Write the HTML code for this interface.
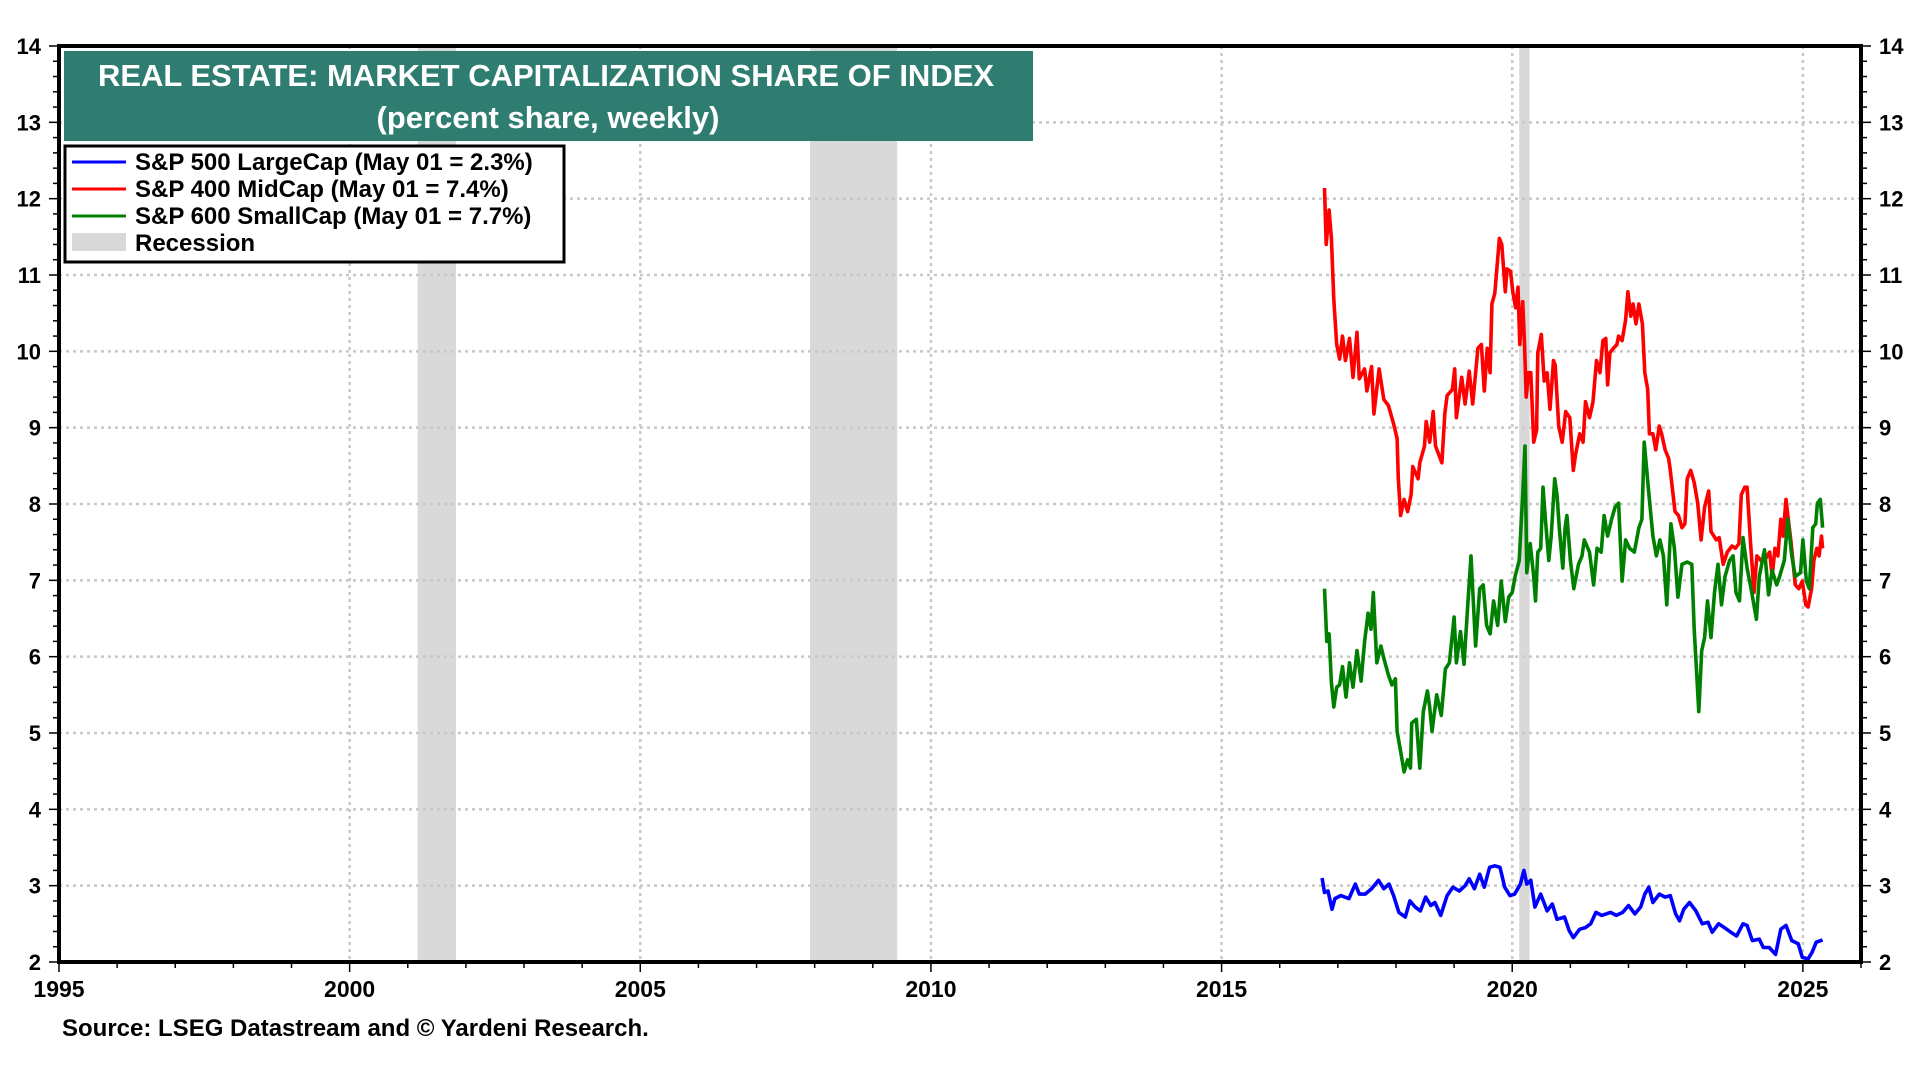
<!DOCTYPE html>
<html><head><meta charset="utf-8"><style>
html,body{margin:0;padding:0;background:#fff;}
svg text{font-family:"Liberation Sans",Arial,sans-serif;font-weight:bold;}
</style></head><body>
<svg id="chart" width="1920" height="1080" xmlns="http://www.w3.org/2000/svg">
<g id="bands"></g><g id="grid"></g><g id="series"></g><g id="axes"></g>
<g>
<rect x="64" y="51" width="969" height="90" fill="#2e7d70"/>
<text x="546" y="86" fill="#fff" font-size="31" text-anchor="middle">REAL ESTATE: MARKET CAPITALIZATION SHARE OF INDEX</text>
<text x="548" y="128" fill="#fff" font-size="31" text-anchor="middle">(percent share, weekly)</text>
</g>
<g>
<rect x="65" y="146" width="499" height="116" fill="#fff" stroke="#000" stroke-width="3"/>
<g><line x1="72" y1="162" x2="126" y2="162" stroke="#0000ff" stroke-width="3"/><text x="135" y="170" font-size="24">S&amp;P 500 LargeCap (May 01 = 2.3%)</text></g>
<g><line x1="72" y1="189" x2="126" y2="189" stroke="#ff0000" stroke-width="3"/><text x="135" y="197" font-size="24">S&amp;P 400 MidCap (May 01 = 7.4%)</text></g>
<g><line x1="72" y1="216" x2="126" y2="216" stroke="#008000" stroke-width="3"/><text x="135" y="224" font-size="24">S&amp;P 600 SmallCap (May 01 = 7.7%)</text></g>
<g><rect x="72" y="233" width="54" height="18" fill="#d9d9d9"/><text x="135" y="251" font-size="24">Recession</text></g>
</g>
<text x="62" y="1036" font-size="24">Source: LSEG Datastream and © Yardeni Research.</text>
</svg>
<script>
const recessionStarts=[2001.17,2007.92,2020.12];
const recessionEnds=[2001.83,2009.42,2020.3];
const yTicks=[2,3,4,5,6,7,8,9,10,11,12,13,14];
const xTicks=[1995,2000,2005,2010,2015,2020,2025];
const blueYears=[2016.73,2016.77,2016.83,2016.90,2016.95,2017.05,2017.12,2017.19,2017.30,2017.37,2017.47,2017.58,2017.70,2017.79,2017.88,2017.96,2018.05,2018.16,2018.24,2018.33,2018.42,2018.51,2018.60,2018.67,2018.77,2018.88,2018.98,2019.09,2019.19,2019.26,2019.35,2019.44,2019.52,2019.61,2019.70,2019.79,2019.87,2019.96,2020.04,2020.14,2020.20,2020.25,2020.32,2020.39,2020.49,2020.60,2020.69,2020.77,2020.90,2020.98,2021.05,2021.16,2021.26,2021.35,2021.44,2021.54,2021.69,2021.79,2021.90,2022.00,2022.11,2022.21,2022.28,2022.35,2022.42,2022.53,2022.63,2022.72,2022.81,2022.88,2022.95,2023.05,2023.16,2023.27,2023.37,2023.44,2023.55,2023.65,2023.76,2023.86,2023.97,2024.04,2024.13,2024.25,2024.32,2024.42,2024.53,2024.62,2024.71,2024.81,2024.92,2024.99,2025.09,2025.16,2025.23,2025.34];
const blueValues=[3.10,2.91,2.93,2.69,2.83,2.87,2.85,2.83,3.02,2.89,2.89,2.96,3.07,2.96,3.02,2.87,2.65,2.59,2.80,2.72,2.67,2.85,2.74,2.78,2.61,2.87,2.98,2.93,3.00,3.09,2.96,3.15,2.98,3.24,3.26,3.24,2.98,2.87,2.89,3.02,3.20,3.02,3.07,2.72,2.89,2.67,2.76,2.56,2.59,2.41,2.32,2.43,2.45,2.50,2.65,2.61,2.65,2.61,2.65,2.74,2.63,2.72,2.89,2.98,2.78,2.89,2.85,2.87,2.63,2.54,2.69,2.78,2.67,2.50,2.52,2.39,2.50,2.45,2.39,2.34,2.50,2.48,2.28,2.30,2.19,2.19,2.10,2.43,2.48,2.28,2.24,2.06,2.04,2.13,2.26,2.29];
const redYears=[2016.77,2016.80,2016.85,2016.89,2016.93,2016.98,2017.03,2017.08,2017.13,2017.20,2017.26,2017.33,2017.37,2017.46,2017.50,2017.58,2017.62,2017.71,2017.79,2017.87,2017.96,2018.02,2018.04,2018.08,2018.14,2018.20,2018.26,2018.29,2018.38,2018.41,2018.49,2018.52,2018.58,2018.64,2018.68,2018.79,2018.84,2018.88,2018.97,2019.01,2019.04,2019.13,2019.19,2019.26,2019.32,2019.41,2019.47,2019.52,2019.57,2019.62,2019.65,2019.70,2019.78,2019.82,2019.88,2019.91,2019.97,2020.01,2020.06,2020.10,2020.13,2020.18,2020.21,2020.24,2020.28,2020.32,2020.37,2020.42,2020.44,2020.50,2020.55,2020.60,2020.65,2020.71,2020.74,2020.80,2020.86,2020.92,2020.99,2021.05,2021.09,2021.16,2021.22,2021.26,2021.33,2021.39,2021.45,2021.51,2021.56,2021.61,2021.64,2021.68,2021.74,2021.80,2021.83,2021.89,2021.95,2021.99,2022.04,2022.08,2022.13,2022.18,2022.24,2022.28,2022.33,2022.36,2022.42,2022.47,2022.53,2022.57,2022.63,2022.69,2022.72,2022.80,2022.86,2022.92,2022.97,2023.01,2023.07,2023.13,2023.19,2023.25,2023.31,2023.38,2023.42,2023.51,2023.56,2023.63,2023.70,2023.78,2023.84,2023.90,2023.94,2024.00,2024.04,2024.10,2024.16,2024.21,2024.28,2024.34,2024.43,2024.47,2024.52,2024.57,2024.62,2024.66,2024.71,2024.75,2024.80,2024.87,2024.93,2024.99,2025.05,2025.09,2025.15,2025.19,2025.24,2025.28,2025.32,2025.34];
const redValues=[12.14,11.4,11.85,11.48,10.68,10.09,9.9,10.2,9.88,10.17,9.66,10.25,9.64,9.77,9.48,9.8,9.18,9.77,9.37,9.29,9.05,8.86,8.33,7.85,8.06,7.9,8.12,8.49,8.33,8.54,8.76,9.08,8.81,9.21,8.76,8.54,9.18,9.42,9.5,9.77,9.13,9.66,9.31,9.74,9.31,10.04,10.09,9.48,10.04,9.72,10.62,10.76,11.48,11.4,10.78,11.08,11.05,10.78,10.57,10.84,10.09,10.65,10.14,9.4,9.72,9.72,8.81,8.97,9.98,10.22,9.61,9.72,9.24,9.88,9.82,9.02,8.81,9.21,9.13,8.44,8.65,8.92,8.81,9.34,9.13,9.34,9.88,9.72,10.14,10.17,9.56,9.98,10.04,10.09,10.2,10.14,10.41,10.78,10.46,10.62,10.36,10.62,10.36,9.72,9.5,8.92,8.92,8.71,9.02,8.92,8.71,8.6,8.44,7.9,7.85,7.69,7.74,8.33,8.44,8.28,8.01,7.53,7.96,8.17,7.64,7.53,7.56,7.21,7.37,7.45,7.42,7.48,8.12,8.22,8.22,7.48,6.84,7.32,7.26,7.26,7.37,7.05,7.42,7.32,7.8,7.58,8.06,7.8,7.48,6.94,6.89,6.99,6.68,6.65,6.89,7.26,7.42,7.32,7.58,7.42];
const greenYears=[2016.77,2016.81,2016.85,2016.89,2016.93,2016.98,2017.03,2017.08,2017.14,2017.20,2017.26,2017.33,2017.40,2017.46,2017.52,2017.57,2017.61,2017.67,2017.74,2017.79,2017.87,2017.93,2017.99,2018.02,2018.08,2018.14,2018.20,2018.25,2018.27,2018.35,2018.41,2018.47,2018.54,2018.58,2018.62,2018.70,2018.78,2018.85,2018.92,2019.00,2019.04,2019.11,2019.17,2019.23,2019.29,2019.37,2019.44,2019.50,2019.56,2019.62,2019.68,2019.75,2019.81,2019.88,2019.94,2020.00,2020.05,2020.12,2020.18,2020.22,2020.25,2020.31,2020.37,2020.40,2020.44,2020.49,2020.53,2020.57,2020.63,2020.67,2020.73,2020.77,2020.81,2020.87,2020.91,2020.94,2021.00,2021.06,2021.14,2021.20,2021.24,2021.33,2021.40,2021.46,2021.53,2021.58,2021.64,2021.71,2021.77,2021.83,2021.89,2021.95,2022.02,2022.10,2022.18,2022.23,2022.27,2022.36,2022.42,2022.48,2022.54,2022.60,2022.66,2022.73,2022.79,2022.85,2022.92,2023.01,2023.09,2023.13,2023.21,2023.26,2023.31,2023.36,2023.42,2023.48,2023.54,2023.60,2023.66,2023.74,2023.80,2023.85,2023.91,2023.97,2024.04,2024.11,2024.20,2024.25,2024.34,2024.41,2024.47,2024.55,2024.60,2024.68,2024.74,2024.81,2024.87,2024.96,2025.00,2025.06,2025.11,2025.17,2025.22,2025.25,2025.30,2025.34];
const greenValues=[6.89,6.2,6.3,5.66,5.34,5.6,5.63,5.87,5.47,5.92,5.6,6.08,5.68,6.2,6.57,6.36,6.84,5.92,6.14,5.98,5.76,5.63,5.71,5.02,4.76,4.49,4.65,4.54,5.13,5.18,4.54,5.28,5.55,5.34,5.02,5.5,5.23,5.84,5.92,6.52,5.92,6.33,5.9,6.62,7.32,6.14,6.89,6.94,6.41,6.3,6.73,6.41,6.99,6.46,6.78,6.84,7.05,7.26,8.12,8.76,7.1,7.48,7.05,6.73,7.37,7.42,8.22,7.8,7.26,7.58,8.33,8.12,7.69,7.16,7.69,7.85,7.26,6.89,7.21,7.32,7.53,7.37,6.94,7.42,7.37,7.85,7.58,7.8,7.96,8.01,6.99,7.53,7.42,7.37,7.69,7.8,8.81,8.06,7.58,7.32,7.53,7.32,6.68,7.74,7.42,6.78,7.21,7.24,7.21,6.36,5.28,6.08,6.25,6.73,6.25,6.84,7.21,6.68,7.05,7.26,7.32,6.84,6.73,7.56,7.16,6.89,6.49,7.05,7.4,6.81,7.13,6.94,7.05,7.26,7.8,7.32,7.05,7.1,7.53,6.99,6.89,7.69,7.74,8.01,8.06,7.69];

const L=59,R=1861,T=46,B=962,X0=1995,X1=2026,Y0=2,Y1=14;
const NS='http://www.w3.org/2000/svg';
function xs(v){return L+(v-X0)/(X1-X0)*(R-L);}
function ys(v){return B-(v-Y0)/(Y1-Y0)*(B-T);}
function mk(tag,attrs,parent){const e=document.createElementNS(NS,tag);for(const k in attrs)e.setAttribute(k,attrs[k]);parent.appendChild(e);return e;}
const bands=document.getElementById('bands'),grid=document.getElementById('grid'),series=document.getElementById('series'),axes=document.getElementById('axes');

recessionStarts.forEach((s,i)=>{
  const r=mk('rect',{x:xs(s),y:T,width:xs(recessionEnds[i])-xs(s),height:B-T,fill:'#d9d9d9'},bands);
  
  
});
yTicks.forEach(v=>{
  if(v>Y0&&v<Y1){const g=mk('line',{x1:L,x2:R,y1:ys(v),y2:ys(v),stroke:'#c8c8c8','stroke-width':2.5,'stroke-dasharray':'3,4'},grid);
  
  }
  const t1=mk('text',{x:L-18,y:ys(v)+8,'font-size':22,'text-anchor':'end'},axes);t1.textContent=v;
  
  
  const t2=mk('text',{x:R+18,y:ys(v)+8,'font-size':22,'text-anchor':'start'},axes);t2.textContent=v;
  
  
});
for(let v=Y0;v<=Y1+0.001;v+=0.2){
  const major=Math.abs(v-Math.round(v))<0.01;const len=major?10:6;
  mk('line',{x1:L-len,x2:L,y1:ys(v),y2:ys(v),stroke:'#000','stroke-width':1.5},axes);
  mk('line',{x1:R,x2:R+len,y1:ys(v),y2:ys(v),stroke:'#000','stroke-width':1.5},axes);
}
for(let y=X0;y<=2026;y++){
  mk('line',{x1:xs(y),x2:xs(y),y1:B,y2:B+(y%5===0?10:6),stroke:'#000','stroke-width':1.5},axes);
}
xTicks.forEach(v=>{
  if(v>X0){const g=mk('line',{x1:xs(v),x2:xs(v),y1:T,y2:B,stroke:'#c8c8c8','stroke-width':2.5,'stroke-dasharray':'3,4'},grid);
  
  }
  const t=mk('text',{x:xs(v),y:B+35,'font-size':23,'text-anchor':'middle'},axes);t.textContent=v;
  
  
});
function drawLine(xsA,vsA,color,name){
  const d=xsA.map((x,i)=>(i?'L':'M')+xs(x).toFixed(1)+','+ys(vsA[i]).toFixed(1)).join('');
  const p=mk('path',{d:d,fill:'none',stroke:color,'stroke-width':3.6,'stroke-linejoin':'round'},series);
  
  
}
drawLine(redYears,redValues,'#ff0000','midcap-line');
drawLine(greenYears,greenValues,'#008000','smallcap-line');
drawLine(blueYears,blueValues,'#0000ff','largecap-line');
const frame=mk('path',{d:`M${L},${B}L${L},${T}L${R},${T}L${R},${B}Z`,fill:'none',stroke:'#000','stroke-width':4},axes);


</script>
</body></html>
